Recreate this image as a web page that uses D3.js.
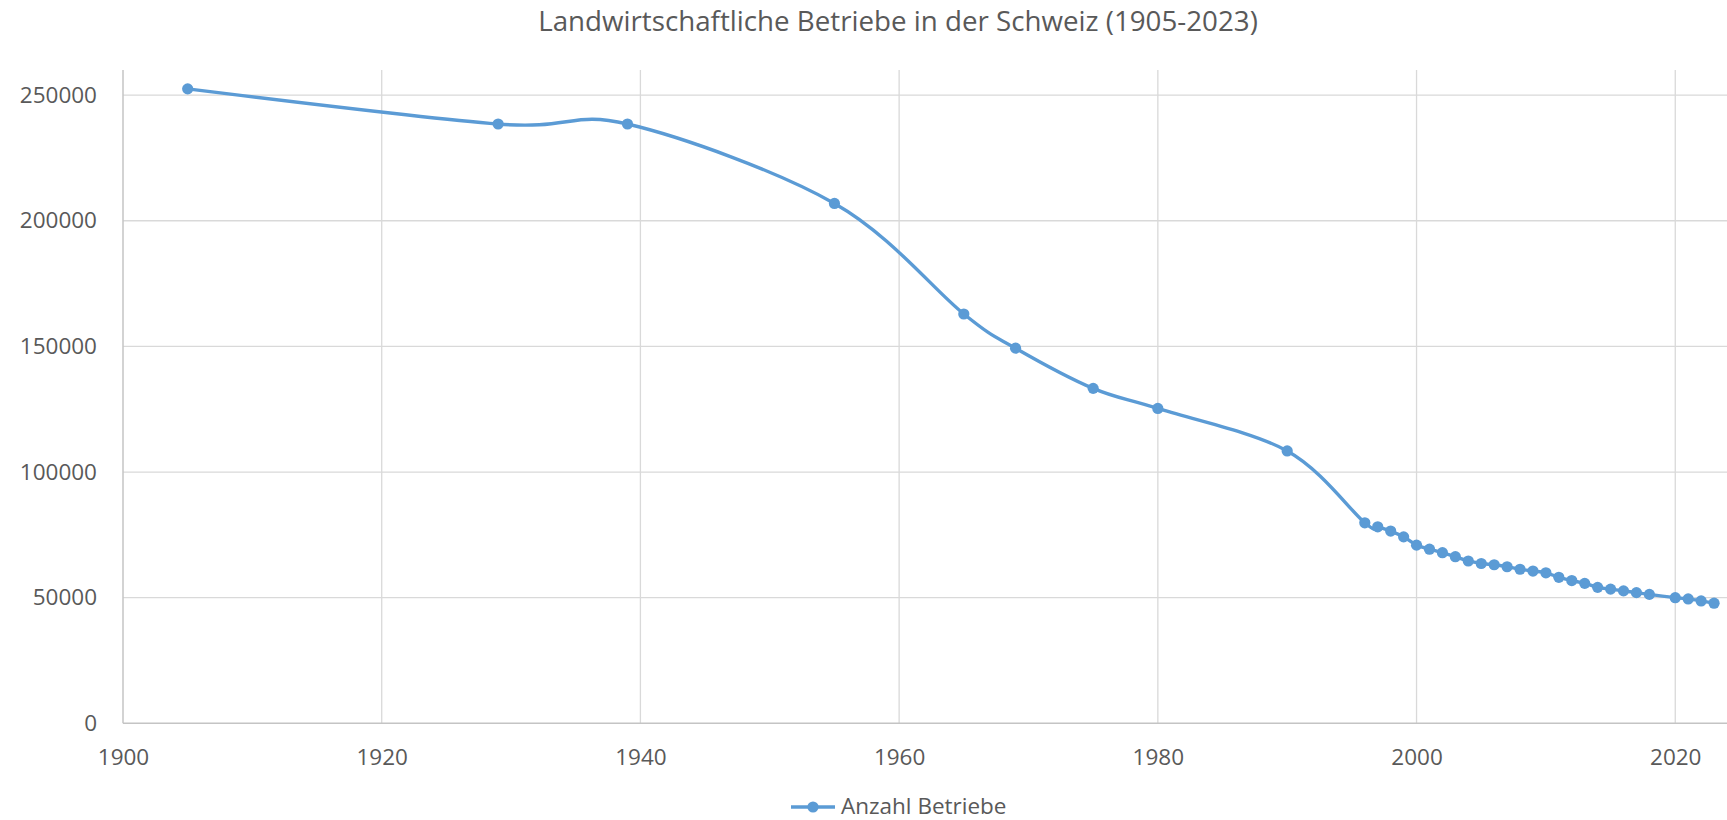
<!DOCTYPE html>
<html>
<head>
<meta charset="utf-8">
<script src="https://cdn.jsdelivr.net/npm/d3@7"></script>
<style>
  body { margin: 0; background: #fff; }
  text { font-family: "Open Sans", "Noto Sans", sans-serif; fill: #595959; }
</style>
</head>
<body>
<div class="chart"></div>
<script>
// Anzahl landwirtschaftliche Betriebe
var years = [1905, 1929, 1939, 1955, 1965, 1969, 1975, 1980, 1990,
  1996, 1997, 1998, 1999, 2000, 2001, 2002, 2003, 2004, 2005, 2006, 2007,
  2008, 2009, 2010, 2011, 2012, 2013, 2014, 2015, 2016, 2017, 2018,
  2020, 2021, 2022, 2023];
var farms = [252500, 238500, 238500, 206900, 162900, 149300, 133300, 125300, 108400,
  79800, 78200, 76500, 74200, 70900, 69300, 67900, 66300, 64600, 63600, 63100, 62300,
  61300, 60600, 59900, 58100, 56800, 55700, 54100, 53400, 52700, 52000, 51300,
  50000, 49500, 48700, 47800];
var xTicks = [1900, 1920, 1940, 1960, 1980, 2000, 2020];
var yTicks = [0, 50000, 100000, 150000, 200000, 250000];
var title = 'Landwirtschaftliche Betriebe in der Schweiz (1905-2023)';
var seriesName = 'Anzahl Betriebe';

var width = 1727;
var height = 820;
var plot = { left: 123, right: 1727, top: 70, bottom: 723.3 };
var blue = '#5b9bd5';

var data = years.map((y, i) => ({ year: y, value: farms[i] }));

var svg = d3.select('.chart')
  .append('svg')
  .attr('width', width)
  .attr('height', height);

var xScale = d3.scaleLinear()
  .domain([1900, 2024])
  .range([plot.left, plot.right]);

var yScale = d3.scaleLinear()
  .domain([0, 260000])
  .range([plot.bottom, plot.top]);

// gridlines
svg.append('g')
  .selectAll('line')
  .data(yTicks.slice(1))
  .enter()
  .append('line')
  .attr('x1', plot.left)
  .attr('x2', plot.right)
  .attr('y1', d => yScale(d))
  .attr('y2', d => yScale(d))
  .attr('stroke', '#d9d9d9')
  .attr('stroke-width', 1.3);

svg.append('g')
  .selectAll('line')
  .data(xTicks.slice(1))
  .enter()
  .append('line')
  .attr('x1', d => xScale(d))
  .attr('x2', d => xScale(d))
  .attr('y1', plot.top)
  .attr('y2', plot.bottom)
  .attr('stroke', '#d9d9d9')
  .attr('stroke-width', 1.3);

// axes
var xAxis = g => g
  .attr('transform', `translate(0, ${plot.bottom})`)
  .call(d3.axisBottom(xScale).tickValues(xTicks).tickFormat(d3.format('d')).tickSize(0).tickPadding(26))
  .call(g => g.select('.domain').remove());

var yAxis = g => g
  .attr('transform', `translate(${plot.left}, 0)`)
  .call(d3.axisLeft(yScale).tickValues(yTicks).tickFormat(d3.format('d')).tickSize(0).tickPadding(26))
  .call(g => g.select('.domain').remove());

svg.append('g').call(xAxis);
svg.append('g').call(yAxis);

svg.selectAll('.tick text')
  .attr('font-size', 22.5)
  .attr('font-family', null)
  .attr('fill', '#595959');

svg.append('line')
  .attr('x1', plot.left).attr('x2', plot.left)
  .attr('y1', plot.top).attr('y2', plot.bottom)
  .attr('stroke', '#c4c4c4').attr('stroke-width', 1.5);
svg.append('line')
  .attr('x1', plot.left).attr('x2', plot.right)
  .attr('y1', plot.bottom).attr('y2', plot.bottom)
  .attr('stroke', '#c4c4c4').attr('stroke-width', 1.5);

// smoothed line like Excel
var line = d3.line()
  .x(d => xScale(d.year))
  .y(d => yScale(d.value))
  .curve(d3.curveCardinal.tension(0));

svg.append('path')
  .datum(data)
  .attr('d', line)
  .attr('fill', 'none')
  .attr('stroke', blue)
  .attr('stroke-width', 3.4)
  .attr('stroke-linejoin', 'round');

svg.append('g')
  .selectAll('circle')
  .data(data)
  .enter()
  .append('circle')
  .attr('cx', d => xScale(d.year))
  .attr('cy', d => yScale(d.value))
  .attr('r', 5.6)
  .attr('fill', blue);

// title, sized to the reference width
var t = svg.append('text')
  .attr('x', 898)
  .attr('text-anchor', 'middle')
  .attr('font-size', 28)
  .text(title);
var fs = 28 * 720 / t.node().getComputedTextLength();
t.attr('font-size', fs).attr('y', 21 + fs * 0.36);

// legend
var legend = svg.append('g');
legend.append('line')
  .attr('x1', 791).attr('x2', 835)
  .attr('y1', 807).attr('y2', 807)
  .attr('stroke', blue).attr('stroke-width', 3.4);
legend.append('circle')
  .attr('cx', 813).attr('cy', 807).attr('r', 5.6)
  .attr('fill', blue);
legend.append('text')
  .attr('x', 841)
  .attr('y', 806)
  .attr('dy', '0.35em')
  .attr('font-size', 22.5)
  .text(seriesName);
</script>
</body>
</html>
